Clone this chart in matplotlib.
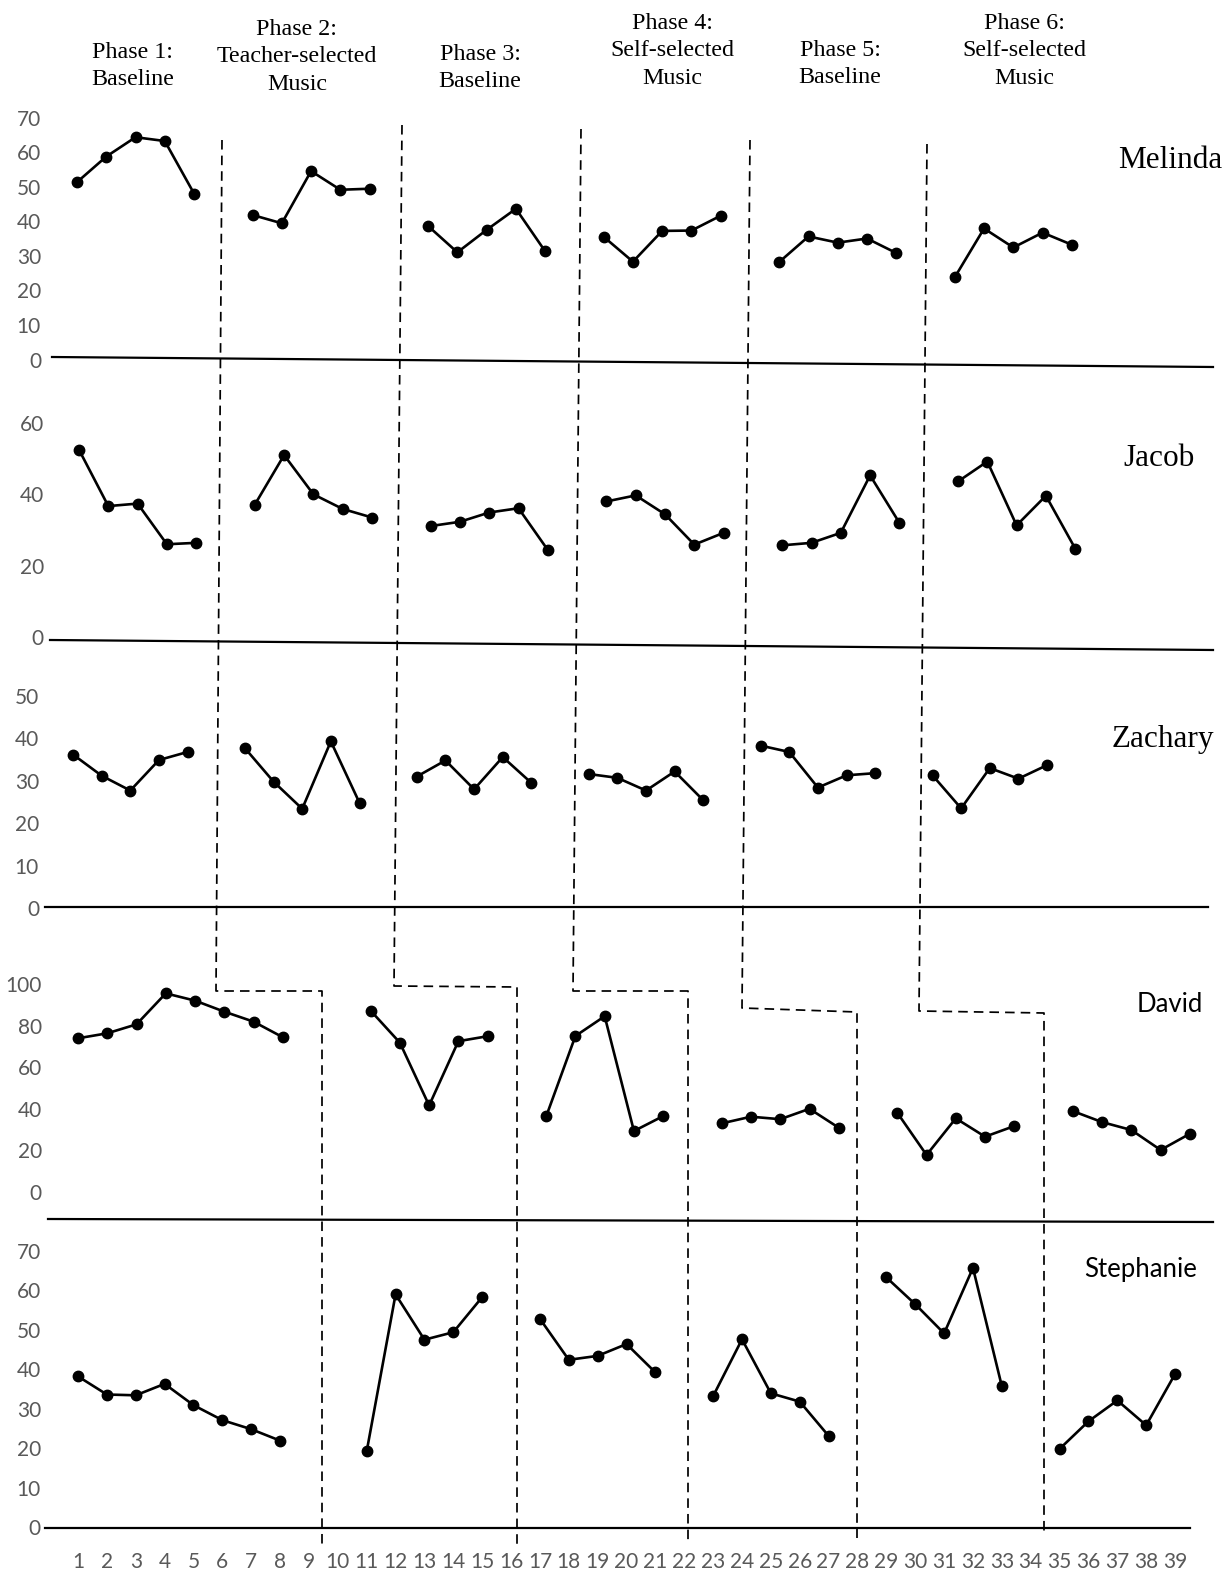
import matplotlib
matplotlib.use("Agg")
import matplotlib.pyplot as plt
from matplotlib.lines import Line2D

W, H = 1228, 1570

# session numbers of each phase
sessions_a = [[1, 2, 3, 4, 5], [7, 8, 9, 10, 11], [13, 14, 15, 16, 17],
              [19, 20, 21, 22, 23], [25, 26, 27, 28, 29], [31, 32, 33, 34, 35]]
sessions_b = [[1, 2, 3, 4, 5, 6, 7, 8], [11, 12, 13, 14, 15], [17, 18, 19, 20, 21],
              [23, 24, 25, 26, 27], [29, 30, 31, 32, 33], [35, 36, 37, 38, 39]]

# values, one list per phase
melinda = [[51.3, 58.7, 64.3, 63.2, 48.0],
           [41.8, 39.4, 54.5, 49.1, 49.4],
           [38.6, 31.0, 37.5, 43.6, 31.3],
           [35.5, 28.3, 37.2, 37.3, 41.6],
           [28.2, 35.6, 33.8, 35.0, 30.8],
           [23.8, 37.9, 32.4, 36.7, 33.2]]
jacob = [[52.5, 36.7, 37.4, 26.0, 26.4],
         [37.1, 51.0, 40.0, 35.9, 33.5],
         [31.1, 32.3, 34.9, 36.1, 24.4],
         [38.0, 39.7, 34.4, 25.9, 29.2],
         [25.7, 26.4, 29.2, 45.3, 32.0],
         [43.6, 49.2, 31.3, 39.6, 24.8]]
zachary = [[36.2, 31.2, 27.7, 34.9, 36.8],
           [37.7, 29.8, 23.4, 39.3, 24.8],
           [31.0, 34.8, 28.0, 35.6, 29.5],
           [31.6, 30.7, 27.7, 32.2, 25.4],
           [38.3, 36.8, 28.4, 31.3, 31.8],
           [31.3, 23.5, 33.0, 30.5, 33.7]]
david = [[73.9, 76.3, 80.6, 95.5, 92.0, 86.7, 81.9, 74.4],
         [87.2, 71.8, 41.6, 72.5, 74.9],
         [36.3, 75.0, 84.5, 29.3, 36.5],
         [33.0, 36.2, 35.0, 40.0, 30.9],
         [38.1, 17.8, 35.4, 26.6, 31.7],
         [38.9, 33.6, 29.8, 20.2, 28.0]]
stephanie = [[38.2, 33.6, 33.4, 36.3, 30.9, 27.1, 24.8, 21.9],
             [19.2, 59.0, 47.5, 49.4, 58.3],
             [52.8, 42.4, 43.4, 46.4, 39.2],
             [33.2, 47.6, 33.9, 31.8, 23.1],
             [63.3, 56.5, 49.1, 65.7, 35.7],
             [19.8, 26.8, 32.1, 25.8, 38.8]]

names = ["Melinda", "Jacob", "Zachary", "David", "Stephanie"]
series = [melinda, jacob, zachary, david, stephanie]
session_sets = [sessions_a, sessions_a, sessions_a, sessions_b, sessions_b]
yticks = [[0, 10, 20, 30, 40, 50, 60, 70], [0, 20, 40, 60],
          [0, 10, 20, 30, 40, 50], [0, 20, 40, 60, 80, 100],
          [0, 10, 20, 30, 40, 50, 60, 70]]
x_sessions = list(range(1, 40))

phase_labels = ["Phase 1:\nBaseline", "Phase 2:\nTeacher-selected\nMusic",
                "Phase 3:\nBaseline", "Phase 4:\nSelf-selected\nMusic",
                "Phase 5:\nBaseline", "Phase 6:\nSelf-selected\nMusic"]

# layout in pixels (top-left origin)
# x of session 1, px per session, y of zero, px per unit, band top, band bottom, tick label right edge
layout = [
    (77, 29.26, 359.5, 3.457, 100, 380, 41),
    (79, 29.30, 637, 3.567, 400, 660, 44),
    (73, 28.65, 908, 4.240, 680, 920, 39),
    (78, 29.26, 1192, 2.080, 960, 1235, 42),
    (78, 28.87, 1527, 3.943, 1235, 1527, 41),
]
name_pos = [(1170, 160), (1159, 458), (1163, 740), (1170, 1004), (1141, 1270)]
serif_names = [True, True, True, False, False]
baselines = [((52, 357), (1213, 367)), ((50, 640), (1213, 650)),
             ((45, 907), (1208, 907)), ((48, 1219), (1213, 1222)),
             ((45, 1528), (1190, 1528))]
phase_label_pos = [(133, 66), (297, 57), (480, 68), (672, 51), (840, 64), (1024, 51)]
phase_lines = [
    [(222, 140), (216, 991), (322, 991), (322, 1547)],
    [(402, 125), (394, 986), (517, 987), (517, 1545)],
    [(581, 129), (573, 991), (688, 991), (688, 1545)],
    [(750, 140), (742, 1008), (857, 1012), (857, 1538)],
    [(927, 144), (919, 1011), (1044, 1013), (1044, 1536)],
]

SERIF = "Liberation Serif"
SANS = "Lato"
GREY = "#595959"


def fx(x):
    return x / W


def fy(y):
    return 1 - y / H


fig = plt.figure(figsize=(W / 100, H / 100), dpi=100)

for i in range(5):
    x1, step, zero, ppu, top, bottom, lab_right = layout[i]
    left = x1 - step
    ax = fig.add_axes([fx(left), fy(bottom), 40 * step / W, (bottom - top) / H])
    ax.set_xlim(0, 40)
    ax.set_ylim((zero - bottom) / ppu, (zero - top) / ppu)
    ax.patch.set_alpha(0)
    for s in ax.spines.values():
        s.set_visible(False)

    for sess, vals in zip(session_sets[i], series[i]):
        ax.plot(sess, vals, color="black", lw=1.9, marker="o", ms=7.5,
                clip_on=False)

    ax.set_yticks(yticks[i])
    ax.tick_params(axis="y", length=0, pad=(left - lab_right) * 0.72,
                   labelsize=15, labelcolor=GREY)
    for t in ax.get_yticklabels():
        t.set_fontfamily(SANS)

    if i == 4:
        ax.set_xticks(x_sessions)
        ax.tick_params(axis="x", length=0, pad=18, labelsize=15,
                       labelcolor=GREY)
        for t in ax.get_xticklabels():
            t.set_fontfamily(SANS)
    else:
        ax.set_xticks([])

    nx, ny = name_pos[i]
    if serif_names[i]:
        fig.text(fx(nx), fy(ny), names[i], family=SERIF, fontsize=22.5,
                 ha="center", va="center")
    else:
        fig.text(fx(nx), fy(ny), names[i], family=SANS, fontsize=18.5,
                 ha="center", va="center")

    (bx0, by0), (bx1, by1) = baselines[i]
    fig.add_artist(Line2D([fx(bx0), fx(bx1)], [fy(by0), fy(by1)],
                          transform=fig.transFigure, color="black", lw=1.6))

for pts in phase_lines:
    fig.add_artist(Line2D([fx(p[0]) for p in pts], [fy(p[1]) for p in pts],
                          transform=fig.transFigure, color="black", lw=1.25,
                          dashes=(5.5, 3.5)))

for label, (px, py) in zip(phase_labels, phase_label_pos):
    fig.text(fx(px), fy(py), label, family=SERIF, fontsize=17.3,
             ha="center", va="center", linespacing=1.4)

fig.savefig("out.png", dpi=100)
